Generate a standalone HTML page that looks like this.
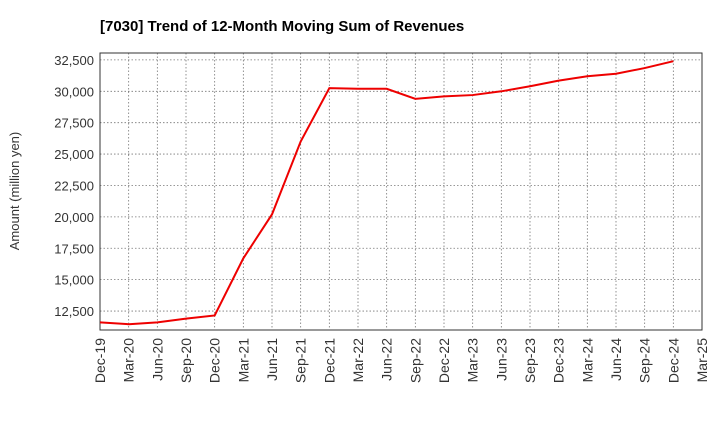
<!DOCTYPE html>
<html><head><meta charset="utf-8"><style>
body{margin:0;background:#fff;font-family:"Liberation Sans",Arial,sans-serif}
</style></head><body>
<svg id="chart" width="720" height="440" xmlns="http://www.w3.org/2000/svg" font-family="Liberation Sans, Arial, sans-serif">
<text x="100" y="31" font-size="15" font-weight="bold" fill="#000">[7030]  Trend of 12-Month Moving Sum of Revenues</text>
<text transform="translate(19,191) rotate(-90)" text-anchor="middle" font-size="13" fill="#333">Amount (million yen)</text>
<g id="grid"></g><g id="axes"></g><g id="series"></g>
</svg>
<script>
const categories=["Dec-19","Mar-20","Jun-20","Sep-20","Dec-20","Mar-21","Jun-21","Sep-21","Dec-21","Mar-22","Jun-22","Sep-22","Dec-22","Mar-23","Jun-23","Sep-23","Dec-23","Mar-24","Jun-24","Sep-24","Dec-24","Mar-25"];
const revenues=[11600,11450,11600,11900,12150,16700,20200,26000,30250,30200,30200,29400,29600,29700,30000,30400,30850,31200,31400,31850,32400];
const yTicks=[12500,15000,17500,20000,22500,25000,27500,30000,32500];
const L=100,R=702,T=53,B=330,yMin=10990,yMax=33050;
const NS="http://www.w3.org/2000/svg";
const xs=i=>L+(R-L)*i/(categories.length-1);
const ys=v=>B-(v-yMin)/(yMax-yMin)*(B-T);
function mk(tag,attrs,parent){const e=document.createElementNS(NS,tag);for(const k in attrs)e.setAttribute(k,attrs[k]);parent.appendChild(e);return e;}
const grid=document.getElementById('grid'),axes=document.getElementById('axes'),series=document.getElementById('series');
categories.forEach((c,i)=>{
 const x=xs(i);
 const g=mk('line',{x1:x,x2:x,y1:T,y2:B,stroke:'#777','stroke-width':0.8,'stroke-dasharray':'1.5,2'},grid);
 
 
 const t=mk('text',{transform:`translate(${x+5},${B+8}) rotate(-90)`,'text-anchor':'end','font-size':14,fill:'#333'},axes);
 t.textContent=c;
 
 
});
yTicks.forEach(v=>{
 const y=ys(v);
 const g=mk('line',{x1:L,x2:R,y1:y,y2:y,stroke:'#777','stroke-width':0.8,'stroke-dasharray':'1.5,2'},grid);
 
 
 const t=mk('text',{x:L-6,y:y+5,'text-anchor':'end','font-size':13,fill:'#333'},axes);
 t.textContent=v.toLocaleString('en-US');
 
 
});
const frame=mk('rect',{x:L,y:T,width:R-L,height:B-T,fill:'none',stroke:'#333','stroke-width':1},axes);


const line=mk('polyline',{points:revenues.map((v,i)=>xs(i)+','+ys(v)).join(' '),fill:'none',stroke:'#ee0000','stroke-width':2},series);


</script>
</body></html>
